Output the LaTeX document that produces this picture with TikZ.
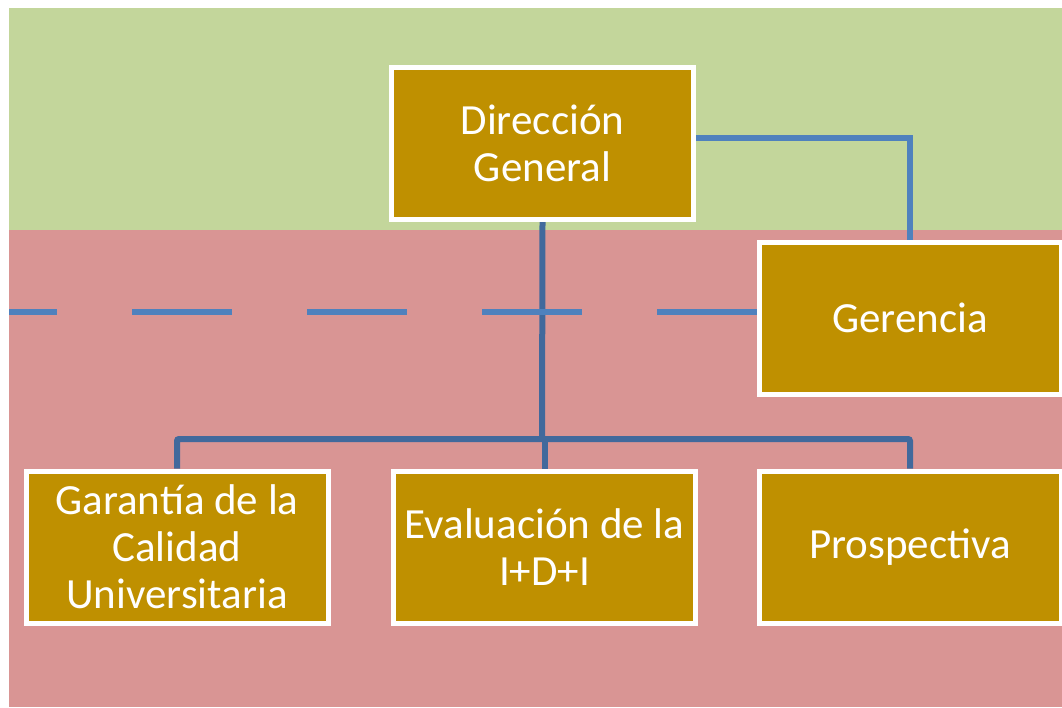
\documentclass[tikz,border=0pt]{standalone}
\usepackage{fontspec}
\setmainfont{Carlito}
\definecolor{bggreen}{HTML}{C3D69B}
\definecolor{bgred}{HTML}{D99594}
\definecolor{gold}{HTML}{BF9000}
\definecolor{lblue}{HTML}{4F81BD}
\definecolor{dblue}{HTML}{41699C}
\pgfdeclarelayer{backdrop}
\pgfdeclarelayer{links}
\pgfsetlayers{backdrop,links,main}
\begin{document}
\begin{tikzpicture}[x=1pt,y=-1pt,
  unitbox/.style={draw=white, line width=5pt, fill=gold, text=white,
    minimum width=302pt, minimum height=152pt, inner sep=0pt, align=center,
    font=\fontsize{43}{47}\selectfont},
  treeline/.style={draw=dblue, line width=6pt, rounded corners=2pt},
  linkline/.style={draw=lblue, line width=6pt},
  dashline/.style={draw=lblue, line width=6pt, dash pattern=on 100pt off 75pt}]
\useasboundingbox (0,0) rectangle (1062,707);
\begin{pgfonlayer}{backdrop}
\fill[white] (0,0) rectangle (1062,707);
\fill[bggreen] (9,8) rectangle (1062,230);
\fill[bgred] (9,230) rectangle (1062,707);
\end{pgfonlayer}
\clip (0,0) rectangle (1062,707);
\node[unitbox] (dir) at (542.5,143.5) {Dirección\\General};
\node[unitbox] (ger) at (910,318) {Gerencia};
\node[unitbox] (gar) at (177,547) {Garantía de la\\Calidad\\Universitaria};
\node[unitbox] (eva) at (544.5,547) {Evaluación de la\\I+D+I};
\node[unitbox] (pro) at (910,547) {Prospectiva};
\coordinate (bar) at (542,439);
\coordinate (dirout) at (696,137.5);
\coordinate (dashend) at (9,312);
\begin{pgfonlayer}{links}
\draw[treeline] (dir.south) -- (bar);
\draw[treeline] (gar.north) |- (bar) -| (pro.north);
\draw[treeline] (eva.north) -- (eva.north |- bar);
\draw[linkline] (dirout) -| (ger.north);
\draw[dashline] (ger.west |- dashend) -- (dashend);
\end{pgfonlayer}
\end{tikzpicture}
\end{document}
